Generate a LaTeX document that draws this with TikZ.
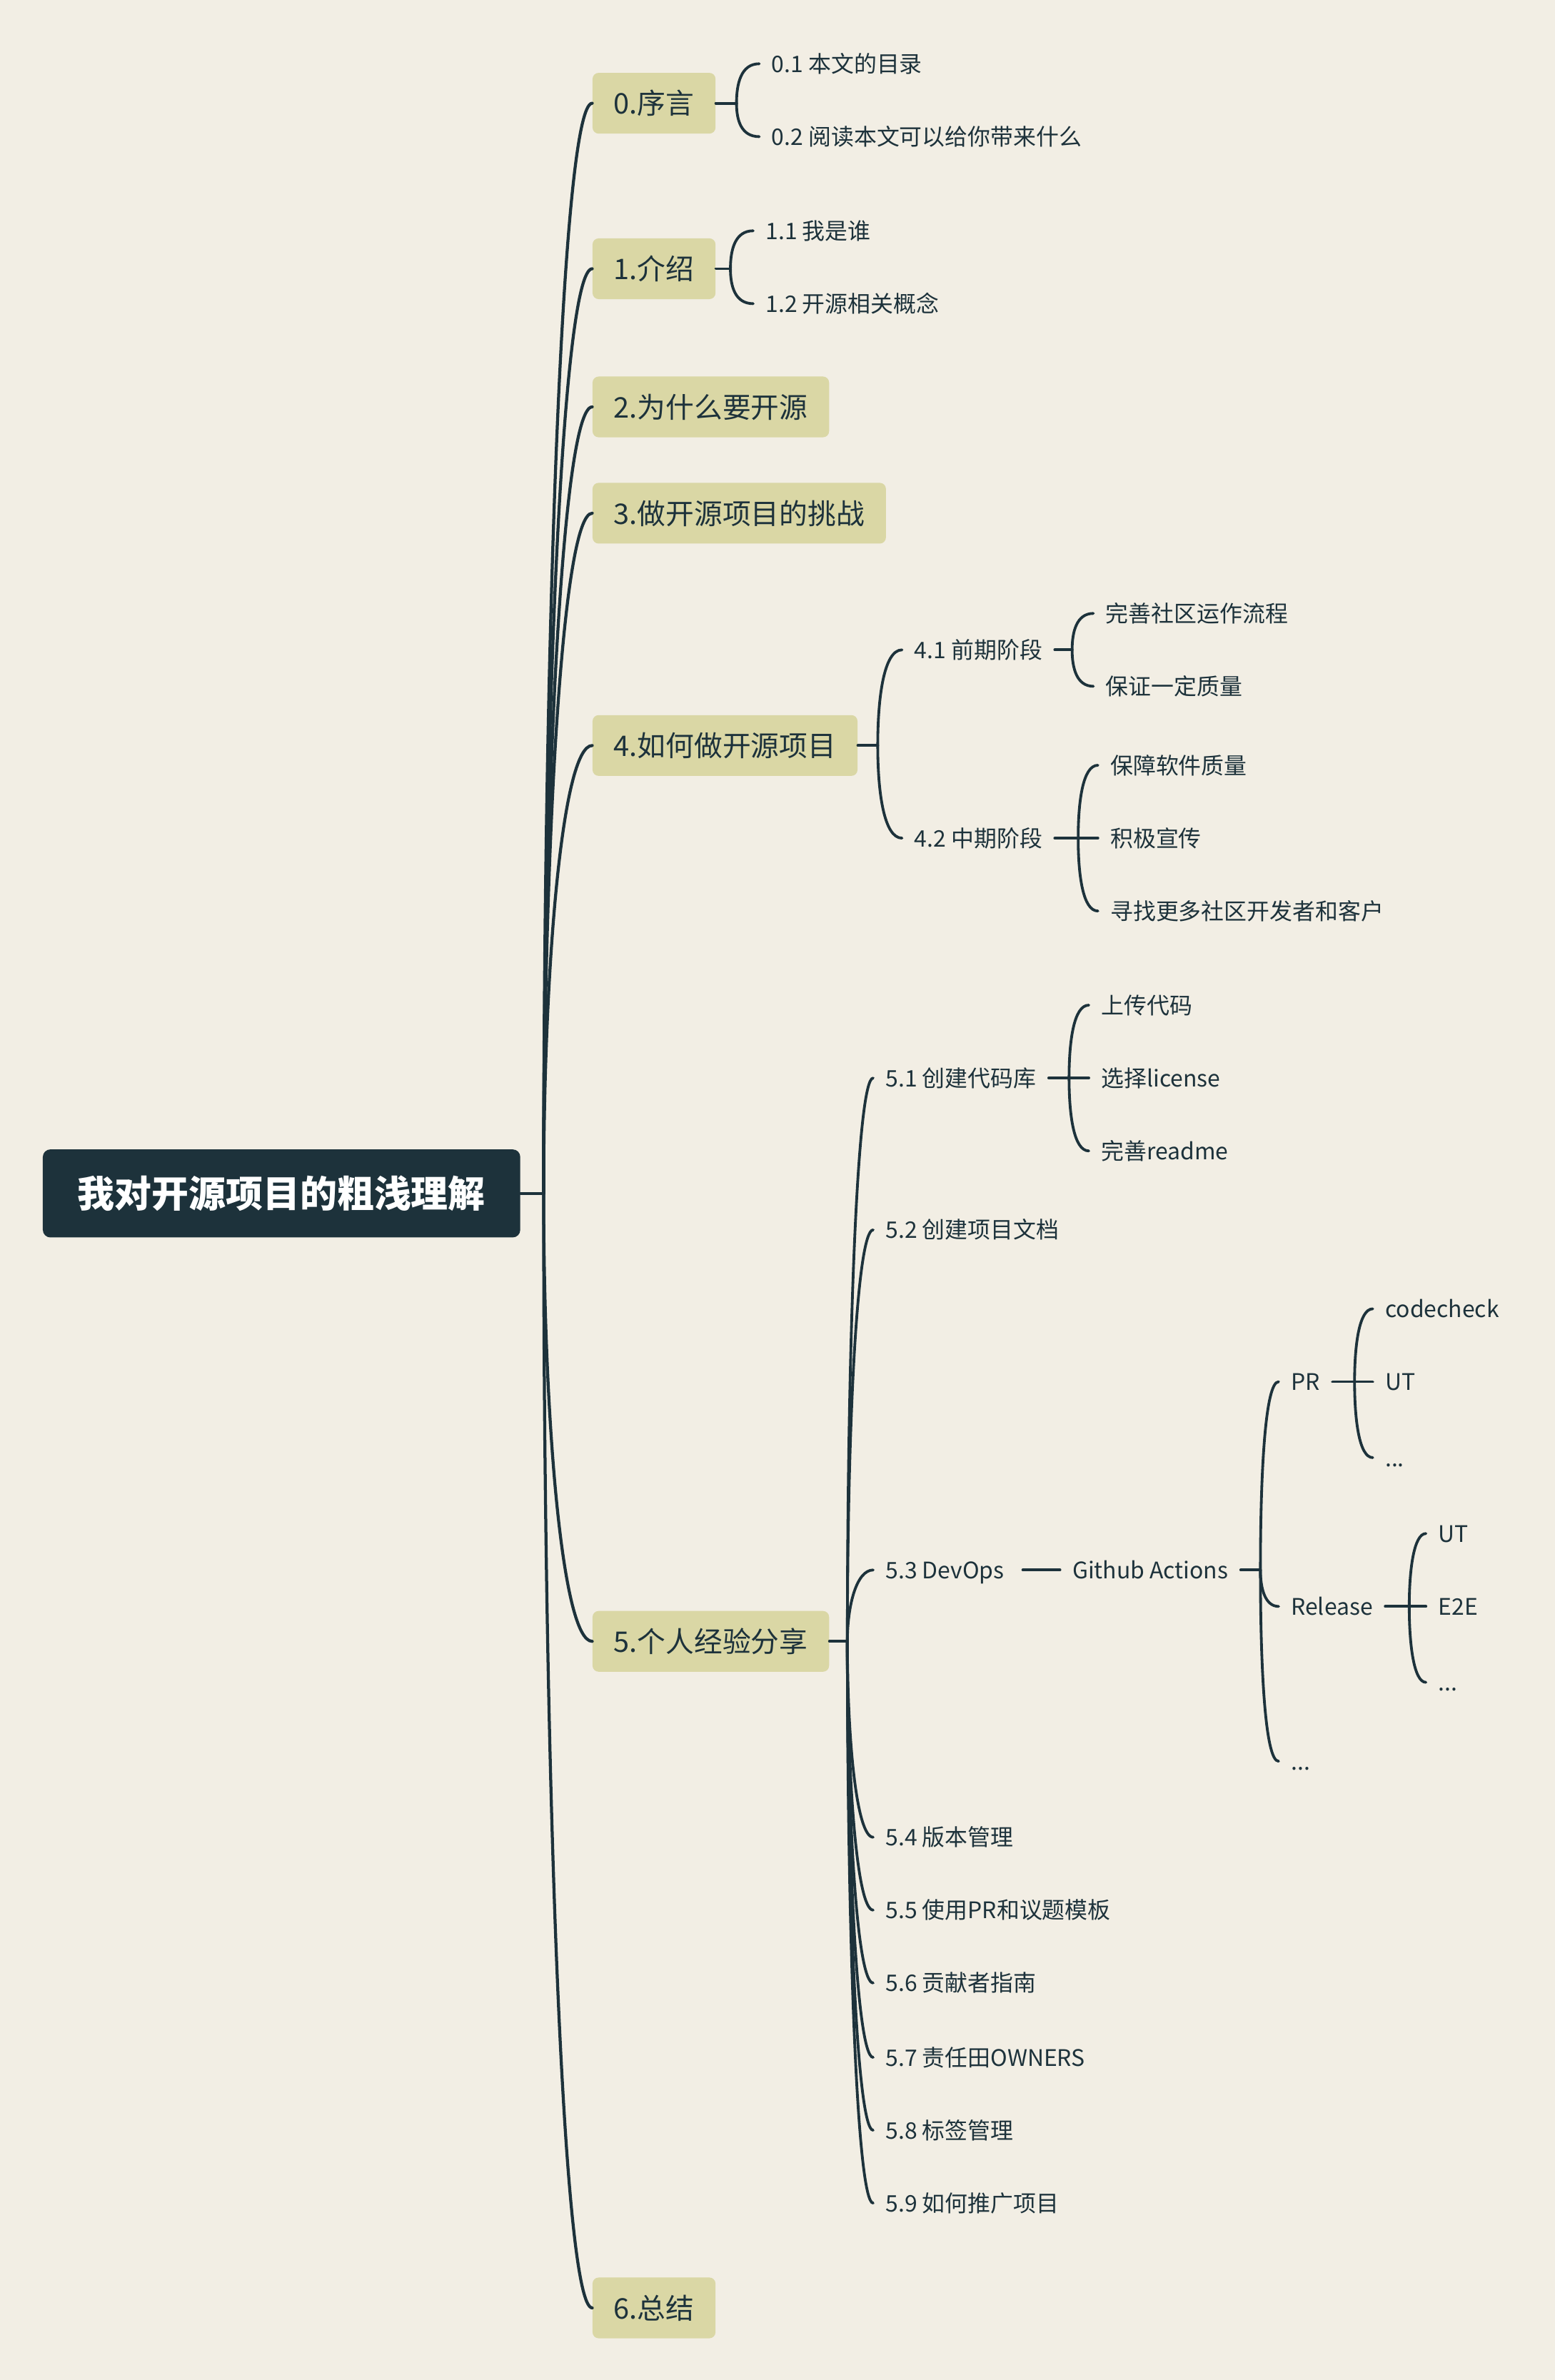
\documentclass[tikz,border=0pt]{standalone}
\usepackage{fontspec}
\setmainfont{Noto Sans CJK SC}
\usetikzlibrary{calc}
\definecolor{paper}{HTML}{F2EEE4}
\definecolor{boxc}{HTML}{DAD7A5}
\definecolor{ink}{HTML}{1D323B}
\begin{document}
\begin{tikzpicture}[x=1pt,y=-1pt,
  every node/.style={text=ink},
  l1/.style={fill=boxc, rounded corners=4pt, inner xsep=14pt, inner ysep=0pt, minimum height=40pt,
    font=\fontsize{18.7}{22}\selectfont, text height=16.5pt, text depth=2.2pt, anchor=west},
  rootbox/.style={fill=ink, text=white, rounded corners=5pt, inner xsep=23pt, inner ysep=0pt, minimum height=58pt,
    font=\bfseries\fontsize{24.4}{28}\selectfont, text height=21.5pt, text depth=2.9pt, anchor=west},
  t2/.style={inner xsep=8pt, inner ysep=0pt, font=\fontsize{15}{18}\selectfont, text height=13.2pt, text depth=1.8pt, anchor=west},
  link/.style={draw=ink, line width=2pt, line cap=round},
  sub/.style={draw=ink, line width=1.8pt, line cap=round},
  curve/.style={to path={.. controls ($(\tikztostart)!0.5!(\tikztostart|-\tikztotarget)$) and ($(\tikztostart|-\tikztotarget)+(#1,0)$) .. (\tikztotarget)}},
  curve/.default=3]

\fill[paper] (0,0) rectangle (1024,1567.5);
\useasboundingbox (0,0) rectangle (1024,1567.5);

% root and level 1
\node[rootbox] (root) at (28,786) {我对开源项目的粗浅理解};
\node[l1] (b0) at (390,68)   {0.序言};
\node[l1] (b1) at (390,177)  {1.介绍};
\node[l1] (b2) at (390,268)  {2.为什么要开源};
\node[l1] (b3) at (390,338)  {3.做开源项目的挑战};
\node[l1] (b4) at (390,491)  {4.如何做开源项目};
\node[l1] (b5) at (390,1081) {5.个人经验分享};
\node[l1] (b6) at (390,1520) {6.总结};

\coordinate (rj) at (358,786);
\draw[link] (root.east) -- (rj);
\foreach \b in {b0,b1,b2,b3,b4,b5,b6} \draw[link] (rj) to[curve=12] (\b.west);

% 0
\node[t2] (c01) at (500,42) {0.1 本文的目录};
\node[t2] (c02) at (500,90) {0.2 阅读本文可以给你带来什么};
\coordinate (j0) at (485,68);
\draw[sub] (b0.east) -- (j0);
\foreach \c in {c01,c02} \draw[sub] (j0) to[curve] (\c.west);

% 1
\node[t2] (c11) at (496,152) {1.1 我是谁};
\node[t2] (c12) at (496,200) {1.2 开源相关概念};
\coordinate (j1) at (481,177);
\draw[sub] (b1.east) -- (j1);
\foreach \c in {c11,c12} \draw[sub] (j1) to[curve] (\c.west);

% 4
\node[t2] (c41) at (594,428) {4.1 前期阶段};
\node[t2] (c42) at (594,552) {4.2 中期阶段};
\coordinate (j4) at (578,491);
\draw[sub] (b4.east) -- (j4);
\foreach \c in {c41,c42} \draw[sub] (j4) to[curve=4] (\c.west);

\node[t2] (c411) at (720,404) {完善社区运作流程};
\node[t2] (c412) at (720,452) {保证一定质量};
\coordinate (j41) at (706,428);
\draw[sub] (c41.east) -- (j41);
\foreach \c in {c411,c412} \draw[sub] (j41) to[curve] (\c.west);

\node[t2] (c421) at (723,504) {保障软件质量};
\node[t2] (c422) at (723,552) {积极宣传};
\node[t2] (c423) at (723,600) {寻找更多社区开发者和客户};
\coordinate (j42) at (710,552);
\draw[sub] (c42.east) -- (j42);
\foreach \c in {c421,c422,c423} \draw[sub] (j42) to[curve] (\c.west);

% 5
\node[t2] (c51) at (575,710)  {5.1 创建代码库};
\node[t2] (c52) at (575,810)  {5.2 创建项目文档};
\node[t2] (c53) at (575,1034) {5.3 DevOps};
\node[t2] (c54) at (575,1210) {5.4 版本管理};
\node[t2] (c55) at (575,1258) {5.5 使用PR和议题模板};
\node[t2] (c56) at (575,1306) {5.6 贡献者指南};
\node[t2] (c57) at (575,1355) {5.7 责任田OWNERS};
\node[t2] (c58) at (575,1403) {5.8 标签管理};
\node[t2] (c59) at (575,1451) {5.9 如何推广项目};
\coordinate (j5) at (558,1081);
\draw[sub] (b5.east) -- (j5);
\foreach \c in {c51,c52,c53,c54,c55,c56,c57,c58,c59} \draw[sub] (j5) to[curve=6] (\c.west);

\node[t2] (c511) at (717,662) {上传代码};
\node[t2] (c512) at (717,710) {选择license};
\node[t2] (c513) at (717,758) {完善readme};
\coordinate (j51) at (704,710);
\draw[sub] (c51.east) -- (j51);
\foreach \c in {c511,c512,c513} \draw[sub] (j51) to[curve] (\c.west);

\node[t2] (ga) at (698,1034) {Github Actions};
\draw[sub, shorten <=4pt] (c53.east) -- (ga.west);

\node[t2] (pr)  at (842,910)  {PR};
\node[t2] (rel) at (842,1058) {Release};
\node[t2] (gd)  at (842,1160) {...};
\coordinate (jga) at (830,1034);
\draw[sub] (ga.east) -- (jga);
\foreach \c in {pr,rel,gd} \draw[sub] (jga) to[curve] (\c.west);

\node[t2] (p1) at (904,862) {codecheck};
\node[t2] (p2) at (904,910) {UT};
\node[t2] (p3) at (904,960) {...};
\coordinate (jpr) at (892,910);
\draw[sub] (pr.east) -- (jpr);
\foreach \c in {p1,p2,p3} \draw[sub] (jpr) to[curve] (\c.west);

\node[t2] (r1) at (939,1010) {UT};
\node[t2] (r2) at (939,1058) {E2E};
\node[t2] (r3) at (939,1108) {...};
\coordinate (jrel) at (928,1058);
\draw[sub] (rel.east) -- (jrel);
\foreach \c in {r1,r2,r3} \draw[sub] (jrel) to[curve] (\c.west);

\end{tikzpicture}
\end{document}
